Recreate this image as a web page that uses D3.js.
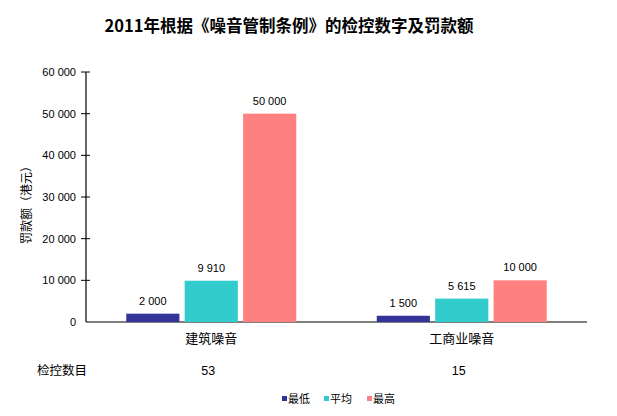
<!DOCTYPE html>
<html>
<head>
<meta charset="utf-8">
<script src="https://cdn.jsdelivr.net/npm/d3@7"></script>
<style>
  body { margin: 0; background: #fff; }
  text { font-family: Arial, "Liberation Sans", "Noto Sans CJK SC", sans-serif; fill: #000; }
  .cjk { font-family: "Noto Sans CJK SC", sans-serif; }
</style>
</head>
<body>
<div id="chart"></div>
<script>
// chart data
var categories = ["建筑噪音", "工商业噪音"];
var series = ["最低", "平均", "最高"];
var minFine = [2000, 1500];
var avgFine = [9910, 5615];
var maxFine = [50000, 10000];
var caseCounts = [53, 15];
var yTicks = [0, 10000, 20000, 30000, 40000, 50000, 60000];
var colors = ["#333399", "#33cccc", "#ff8080"];

var svgWidth = 617;
var svgHeight = 416;

var margin = { top: 72, right: 30, bottom: 94, left: 86 };
var width = svgWidth - margin.left - margin.right;
var height = svgHeight - margin.top - margin.bottom;

var svg = d3.select("#chart")
  .append("svg")
  .attr("width", svgWidth)
  .attr("height", svgHeight);

var chartGroup = svg.append("g")
  .attr("transform", `translate(${margin.left}, ${margin.top})`);

// build rows per category
var rows = categories.map(function(c, i) {
  return { cat: c, values: [minFine[i], avgFine[i], maxFine[i]], count: caseCounts[i] };
});

var fmt = d3.formatLocale({ decimal: ".", thousands: " ", grouping: [3], currency: ["", ""] }).format(",d");

var x0 = d3.scaleBand()
  .domain(categories)
  .range([0, width])
  .padding(0);

var groupWidth = 170;
var x1 = d3.scaleBand()
  .domain(series)
  .range([0, groupWidth])
  .paddingInner(0.09)
  .paddingOuter(0);

var yLinearScale = d3.scaleLinear()
  .domain([0, 60000])
  .range([height, 0]);

// y axis
var leftAxis = d3.axisLeft(yLinearScale)
  .tickValues(yTicks)
  .tickSize(0)
  .tickPadding(10)
  .tickFormat(fmt);

var yAxisG = chartGroup.append("g").call(leftAxis);
yAxisG.select(".domain").remove();
yAxisG.selectAll("text").attr("font-size", "11px").attr("fill", "#000");

chartGroup.append("line")
  .attr("x1", 0).attr("x2", 0)
  .attr("y1", 0).attr("y2", height)
  .attr("stroke", "#000").attr("stroke-width", 1.2);

chartGroup.selectAll(".ytick")
  .data(yTicks.filter(d => d > 0))
  .enter()
  .append("line")
  .attr("x1", -5).attr("x2", 4)
  .attr("y1", d => yLinearScale(d)).attr("y2", d => yLinearScale(d))
  .attr("stroke", "#000");

// x axis line
chartGroup.append("line")
  .attr("x1", 0).attr("x2", width)
  .attr("y1", height).attr("y2", height)
  .attr("stroke", "#000").attr("stroke-width", 1.2);

// bars
var groups = chartGroup.selectAll(".grp")
  .data(rows)
  .enter()
  .append("g")
  .attr("transform", d => `translate(${x0(d.cat) + x0.bandwidth() / 2 - groupWidth / 2}, 0)`);

groups.selectAll("rect")
  .data(d => d.values.map((v, i) => ({ key: series[i], value: v, i: i })))
  .enter()
  .append("rect")
  .attr("x", d => x1(d.key))
  .attr("y", d => yLinearScale(d.value))
  .attr("width", x1.bandwidth())
  .attr("height", d => height - yLinearScale(d.value))
  .attr("fill", d => colors[d.i]);

groups.selectAll(".lbl")
  .data(d => d.values.map((v, i) => ({ key: series[i], value: v })))
  .enter()
  .append("text")
  .attr("x", d => x1(d.key) + x1.bandwidth() / 2)
  .attr("y", d => yLinearScale(d.value) - 9)
  .attr("text-anchor", "middle")
  .attr("font-size", "11px")
  .text(d => fmt(d.value));

// category labels
chartGroup.selectAll(".cat")
  .data(rows)
  .enter()
  .append("text")
  .attr("class", "cjk")
  .attr("x", d => x0(d.cat) + x0.bandwidth() / 2)
  .attr("y", height + 21)
  .attr("text-anchor", "middle")
  .attr("font-size", "13px")
  .text(d => d.cat);

// case count row
chartGroup.append("text")
  .attr("class", "cjk")
  .attr("x", 37 - margin.left)
  .attr("y", height + 53)
  .attr("font-size", "12.5px")
  .text("检控数目");

chartGroup.selectAll(".cnt")
  .data(rows)
  .enter()
  .append("text")
  .attr("x", d => x0(d.cat) + x0.bandwidth() / 2 - 3)
  .attr("y", height + 53)
  .attr("text-anchor", "middle")
  .attr("font-size", "12.5px")
  .text(d => d.count);

// y axis title
chartGroup.append("text")
  .attr("class", "cjk")
  .attr("transform", `translate(${31 - margin.left}, ${202 - margin.top}) rotate(-90)`)
  .attr("text-anchor", "middle")
  .attr("font-size", "12px")
  .text("罚款额（港元）");

// title
svg.append("text")
  .attr("class", "cjk")
  .attr("x", 289)
  .attr("y", 32)
  .attr("text-anchor", "middle")
  .attr("font-size", "16.5px")
  .attr("font-weight", "bold")
  .text("2011年根据《噪音管制条例》的检控数字及罚款额");

// legend
var legendX = [282, 324, 367];
var legend = svg.selectAll(".leg")
  .data(series)
  .enter()
  .append("g")
  .attr("transform", (d, i) => `translate(${legendX[i]}, 399)`);

legend.append("rect")
  .attr("x", 0).attr("y", -3)
  .attr("width", 5).attr("height", 5)
  .attr("fill", (d, i) => colors[i]);

legend.append("text")
  .attr("class", "cjk")
  .attr("x", 6)
  .attr("y", 4)
  .attr("font-size", "11px")
  .text(d => d);
</script>
</body>
</html>
